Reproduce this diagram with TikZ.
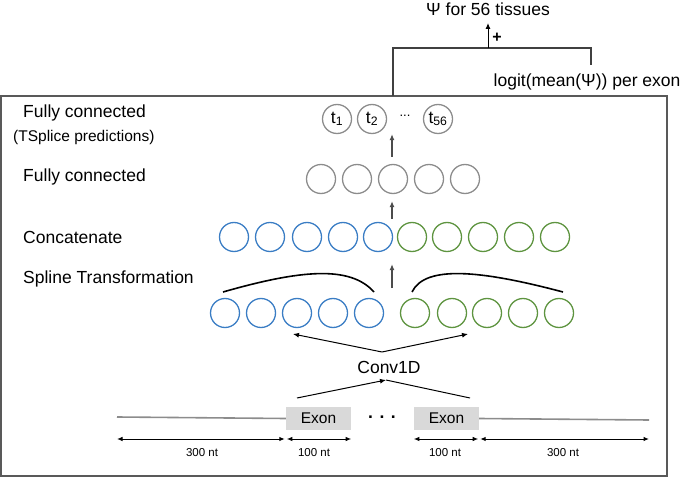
\documentclass[tikz,border=0pt]{standalone}
\usepackage{fontspec}
\setmainfont{Liberation Sans}
\usetikzlibrary{arrows.meta}
\definecolor{nodeblue}{HTML}{3A7DC4}
\definecolor{nodegreen}{HTML}{5E9440}
\definecolor{nodegray}{HTML}{8C8C8C}
\definecolor{exongray}{HTML}{D9D9D9}
\tikzset{
  unit/.style={circle,draw,line width=1.3pt,minimum size=29pt,inner sep=0pt},
  up/.style={-{Latex[length=6pt,width=5pt]},line width=1.3pt,draw=black!70},
  thin arrow/.style={-{Latex[length=6pt,width=5pt]},line width=1pt},
  dim/.style={{Latex[length=5.5pt,width=4.5pt]}-{Latex[length=5.5pt,width=4.5pt]},line width=1pt},
  lbl/.style={font=\fontsize{17.5}{20}\selectfont,anchor=west,inner sep=0pt},
  big/.style={font=\fontsize{17.5}{20}\selectfont},
  small/.style={font=\fontsize{11.5}{14}\selectfont},
  exon/.style={fill=exongray,minimum width=65pt,minimum height=23pt,inner sep=0pt,font=\fontsize{15.5}{18}\selectfont},
}
\begin{document}
\begin{tikzpicture}[x=1pt,y=1pt]
    \def\x{1}
    \def\y{-1}
    \useasboundingbox (0,0) rectangle (685*\x,478*\y);
    \draw[line width=1.3pt,black!65] (1*\x,96*\y) rectangle (667*\x,476*\y);
    % layer names
    \node[lbl] (L1) at (23*\x,113*\y) {Fully connected};
    \node[lbl,font=\fontsize{15.5}{18}\selectfont] (L1b) at (13*\x,137*\y) {(TSplice predictions)};
    \node[lbl] (L2) at (23*\x,177*\y) {Fully connected};
    \node[lbl] (L3) at (23*\x,237*\y) {Concatenate};
    \node[lbl] (L4) at (23*\x,279*\y) {Spline Transformation};
    % tissue outputs
    \node[unit,draw=nodegray,big] (T1) at (337*\x,119*\y) {t\textsubscript{1}};
    \node[unit,draw=nodegray,big] (T2) at (372*\x,119*\y) {t\textsubscript{2}};
    \node[font=\fontsize{13}{14}\selectfont] (Tdots) at (405*\x,116*\y) {...};
    \node[unit,draw=nodegray,big] (T56) at (438*\x,119*\y) {t\textsubscript{56}};
    % hidden layer
    \foreach \i/\xx in {1/321,2/357,3/393,4/429,5/465}
      \node[unit,draw=nodegray] (F\i) at (\xx*\x,179*\y) {};
    % concatenated layer
    \foreach \i/\xx in {1/234,2/270,3/307,4/343,5/378}
      \node[unit,draw=nodeblue] (C\i) at (\xx*\x,237*\y) {};
    \foreach \i/\xx in {1/412,2/447,3/483,4/519,5/555}
      \node[unit,draw=nodegreen] (D\i) at (\xx*\x,237*\y) {};
    % spline layer
    \foreach \i/\xx in {1/225,2/261,3/297,4/333,5/369}
      \node[unit,draw=nodeblue] (S\i) at (\xx*\x,313*\y) {};
    \foreach \i/\xx in {1/415,2/452,3/487,4/523,5/559}
      \node[unit,draw=nodegreen] (R\i) at (\xx*\x,313*\y) {};
    \draw[line width=1.6pt] (223*\x,292*\y) .. controls (300*\x,270*\y) and (350*\x,265*\y) .. (374*\x,292*\y);
    \draw[line width=1.6pt] (412*\x,292*\y) .. controls (425*\x,265*\y) and (480*\x,270*\y) .. (563*\x,292*\y);
    % flow arrows
    \coordinate (a1) at (392*\x,157*\y);
    \coordinate (a2) at (392*\x,219*\y);
    \coordinate (a3) at (392*\x,288*\y);
    \draw[up] (a1) -- (a1 |- T2.south);
    \draw[up,shorten >=7pt] (a2) -- (a2 |- F3.south);
    \draw[up,shorten >=12pt] (a3) -- (a3 |- C5.south);
    % conv layer
    \node[big] (conv) at (389*\x,367*\y) {Conv1D};
    \coordinate (cTop) at (382*\x,352*\y);
    \coordinate (cBot) at (386*\x,380*\y);
    \coordinate (hl) at (293*\x,334*\y);
    \coordinate (hr) at (468*\x,334*\y);
    \coordinate (ql) at (297*\x,398*\y);
    \coordinate (qr) at (470*\x,398*\y);
    \draw[thin arrow] (cTop) -- (hl);
    \draw[thin arrow] (cTop) -- (hr);
    \draw[thin arrow] (ql) -- (cBot);
    \draw[line width=1pt] (qr) -- (cBot);
    % sequence
    \node[exon] (E1) at (318.5*\x,418.5*\y) {Exon};
    \node[exon] (E2) at (446.5*\x,418.5*\y) {Exon};
    \node[font=\bfseries\fontsize{17.5}{20}\selectfont] (gap) at (382*\x,417*\y) {. . .};
    \coordinate (s0) at (117*\x,417*\y);
    \coordinate (s1) at (649*\x,420*\y);
    \draw[line width=1.6pt,black!45] (s0) -- (E1.west);
    \draw[line width=1.6pt,black!45] (E2.east) -- (s1);
    \coordinate (d0) at (117*\x,439*\y);
    \coordinate (d1) at (649*\x,439*\y);
    \draw[dim] (d0) -- ([xshift=-1pt]E1.west |- d0);
    \draw[dim] ([xshift=1pt]E1.west |- d0) -- (E1.east |- d0);
    \draw[dim] (E2.west |- d0) -- ([xshift=-1pt]E2.east |- d0);
    \draw[dim] ([xshift=1pt]E2.east |- d0) -- (d1);
    \node[small] (n1) at (202*\x,453*\y) {300 nt};
    \node[small] (n2) at (314*\x,453*\y) {100 nt};
    \node[small] (n3) at (445*\x,453*\y) {100 nt};
    \node[small] (n4) at (563*\x,453*\y) {300 nt};
    % combined output
    \node[big] (psi) at (488*\x,9*\y) {Ψ for 56 tissues};
    \node[anchor=east,big] (logit) at (684*\x,82*\y) {logit(mean(Ψ)) per exon};
    \coordinate (J1) at (393*\x,96*\y);
    \coordinate (J2) at (393*\x,48*\y);
    \coordinate (J3) at (591*\x,48*\y);
    \coordinate (J4) at (591*\x,65*\y);
    \coordinate (J5) at (488*\x,48*\y);
    \draw[line width=1.1pt,black!75] (J1) -- (J2) -- (J3) -- (J4);
    \draw[thin arrow] (J5) -- (488*\x,23*\y);
    \node[font=\bfseries\fontsize{16}{18}\selectfont] (plus) at (497*\x,38*\y) {+};
\end{tikzpicture}
\end{document}
